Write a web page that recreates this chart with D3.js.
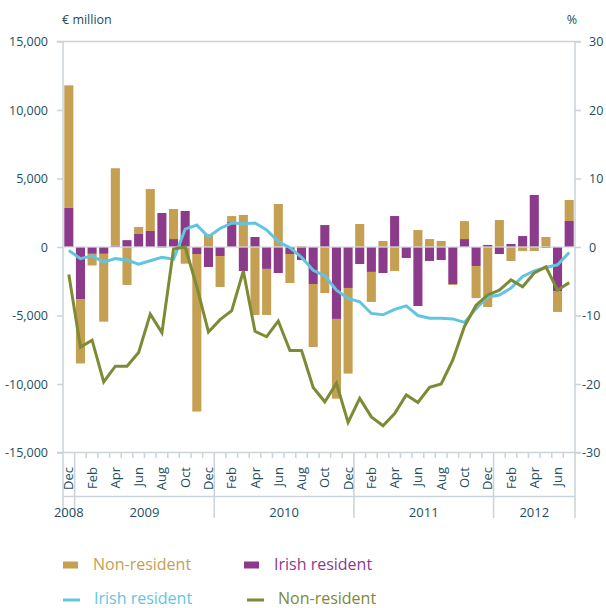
<!DOCTYPE html>
<html>
<head>
<meta charset="utf-8">
<script src="https://d3js.org/d3.v7.min.js"></script>
<style>
    body { margin: 0; background: #fff; }
    svg text { font-family: "Open Sans", sans-serif; }
</style>
</head>
<body>
<div id="chart"></div>
<script>
// Monthly flows (€ million, bars) and annual growth rates (%, lines)

const months = [
    'Dec', 'Jan', 'Feb', 'Mar', 'Apr', 'May', 'Jun', 'Jul', 'Aug', 'Sep', 'Oct', 'Nov',
    'Dec', 'Jan', 'Feb', 'Mar', 'Apr', 'May', 'Jun', 'Jul', 'Aug', 'Sep', 'Oct', 'Nov',
    'Dec', 'Jan', 'Feb', 'Mar', 'Apr', 'May', 'Jun', 'Jul', 'Aug', 'Sep', 'Oct', 'Nov',
    'Dec', 'Jan', 'Feb', 'Mar', 'Apr', 'May', 'Jun', 'Jul'
];
const years = ['2008', '2009', '2010', '2011', '2012'];
const monthsInYear = [1, 12, 12, 12, 7];

// bars: € million
const irishFlows = [
    2850, -3800, -500, -500, 100, 500, 950, 1170, 2480, 580, 2630, -510,
    -1460, -660, 1820, -1750, 730, -1600, -1900, -510, -950, -2700, 1600, -5250,
    -2990, -1240, -1820, -1900, 2260, -800, -4310, -1020, -950, -2700, 580, -1390,
    150, -510, 220, 800, 3800, -70, -3210, 1900
];
const nonResFlows = [
    8950, -4700, -850, -4950, 5650, -2770, 510, 3060, -70, 2190, -1220, -11500,
    950, -2260, 440, 2340, -4960, -3360, 3140, -2120, 70, -4600, -3360, -5820,
    -6250, 1680, -2190, 440, -1750, 0, 1240, 580, 440, -70, 1310, -2340,
    -4380, 1970, -1020, -290, -290, 730, -1530, 1530
];

// lines: %
const irishPct = [
    -0.5, -1.7, -1.3, -2.2, -1.7, -1.9, -2.5, -2.0, -1.5, -1.8, 2.6, 3.2,
    1.5, 2.7, 3.5, 3.4, 3.5, 2.5, 0.8, -0.1, -1.5, -3.4, -4.2, -6.3,
    -7.5, -8.0, -9.7, -9.9, -9.1, -8.6, -10.0, -10.4, -10.4, -10.5, -11.0, -9.0,
    -7.3, -7.0, -6.0, -4.3, -3.5, -3.0, -2.6, -0.8
];
const nonResPct = [
    -4.0, -14.6, -13.6, -19.7, -17.4, -17.4, -15.4, -9.8, -12.5, -0.3, 0.0, -5.8,
    -12.4, -10.6, -9.3, -3.5, -12.3, -13.1, -10.8, -15.1, -15.1, -20.5, -22.6, -19.9,
    -25.6, -22.1, -24.8, -26.1, -24.3, -21.6, -22.7, -20.5, -20.0, -16.5, -11.6, -8.5,
    -7.0, -6.3, -4.8, -5.8, -3.8, -2.9, -6.3, -5.2
];

const leftTicks = [-15000, -10000, -5000, 0, 5000, 10000, 15000];
const rightTicks = [-30, -20, -10, 0, 10, 20, 30];

(function () {
    'use strict';

    const width = 606, height = 608;
    const plot = { left: 63, right: 575, top: 41.5, bottom: 452.5 };

    const colors = {
        nonres: '#c6a052',
        irish: '#8c3a8a',
        irishLine: '#62c5df',
        nonresLine: '#7e8a35',
        text: '#234e5c',
        axis: '#c9d3d9'
    };

    const svg = d3.select('#chart').append('svg')
        .attr('width', width).attr('height', height);

    // one row per month, index used as the band key
    const data = months.map(function (m, i) {
        return { i: i, month: m, irish: irishFlows[i], nonres: nonResFlows[i],
            irishPct: irishPct[i], nonresPct: nonResPct[i] };
    });

    const x = d3.scaleBand().domain(data.map(d => d.i))
        .range([plot.left, plot.right]).paddingInner(0.22).paddingOuter(0.11);
    const step = x.step();
    // band edge (not the bar edge) for the tick marks
    const edge = i => plot.left + i * step;

    const yL = d3.scaleLinear().domain([-15000, 15000]).range([plot.bottom, plot.top]);
    const yR = d3.scaleLinear().domain([-30, 30]).range([plot.bottom, plot.top]);

    // 左轴
    const leftAxis = svg.append('g').attr('transform', `translate(${plot.left},0)`)
        .call(d3.axisLeft(yL).tickValues(leftTicks).tickSize(6).tickPadding(9)
            .tickFormat(d => d3.format(',')(d).replace('−', '-')));
    // 右轴
    const rightAxis = svg.append('g').attr('transform', `translate(${plot.right},0)`)
        .call(d3.axisRight(yR).tickValues(rightTicks).tickSize(6).tickPadding(8)
            .tickFormat(d => String(d)));
    rightAxis.selectAll('.tick text').attr('dx', d => d < 0 ? -7 : 0);

    [leftAxis, rightAxis].forEach(function (g) {
        g.select('.domain').remove();
        g.selectAll('.tick line').attr('stroke', colors.axis).attr('stroke-width', 1.5);
        g.selectAll('.tick text').attr('fill', colors.text).style('font-size', '12.5px');
    });

    // frame: top / bottom lines run over the tick marks, side lines run down past the labels
    const frame = svg.append('g').attr('stroke', colors.axis).attr('stroke-width', 1.5);
    [yL(15000), yL(-15000)].forEach(function (yy) {
        frame.append('line').attr('x1', plot.left - 6).attr('x2', plot.right + 6)
            .attr('y1', yy).attr('y2', yy);
    });
    [plot.left, plot.right].forEach(function (xx) {
        frame.append('line').attr('x1', xx).attr('x2', xx)
            .attr('y1', plot.top).attr('y2', 518);
    });
    frame.append('line').attr('x1', plot.left).attr('x2', plot.right)
        .attr('y1', 496.5).attr('y2', 496.5);

    // month ticks between bands, long ones at year boundaries
    let yearStarts = [0];
    monthsInYear.forEach(function (n, k) { yearStarts.push(yearStarts[k] + n); });
    d3.range(1, months.length).forEach(function (i) {
        const isYear = yearStarts.indexOf(i) >= 0;
        frame.append('line').attr('x1', edge(i)).attr('x2', edge(i))
            .attr('y1', plot.bottom).attr('y2', isYear ? 518 : 458);
    });

    // stacked bars, positive and negative stacked apart
    const series = d3.stack().keys(['irish', 'nonres'])
        .offset(d3.stackOffsetDiverging)(data);

    svg.append('g').selectAll('g').data(series).join('g')
        .attr('fill', s => colors[s.key])
        .selectAll('rect').data(s => s).join('rect')
        .attr('x', d => x(d.data.i))
        .attr('width', x.bandwidth())
        .attr('y', d => yL(Math.max(d[0], d[1])))
        .attr('height', d => Math.abs(yL(d[0]) - yL(d[1])));

    // zero line
    svg.append('line').attr('x1', plot.left).attr('x2', plot.right)
        .attr('y1', yL(0)).attr('y2', yL(0))
        .attr('stroke', '#d3dbe0').attr('stroke-width', 1.5).attr('opacity', 0.85);

    // growth rate lines
    const cx = d => x(d.i) + x.bandwidth() / 2;
    const lines = [
        { key: 'irishPct', color: colors.irishLine },
        { key: 'nonresPct', color: colors.nonresLine }
    ];
    lines.forEach(function (l) {
        svg.append('path').datum(data)
            .attr('fill', 'none').attr('stroke', l.color).attr('stroke-width', 3)
            .attr('stroke-linejoin', 'miter')
            .attr('d', d3.line().x(cx).y(d => yR(d[l.key])));
    });

    // month labels, every other month starting from Dec
    svg.append('g').selectAll('text')
        .data(data.filter(d => d.i % 2 === 0)).join('text')
        .attr('transform', d => `translate(${cx(d)},467) rotate(-90)`)
        .attr('dy', '0.35em')
        .attr('text-anchor', 'end')
        .attr('fill', colors.text)
        .style('font-size', '13px')
        .text(d => d.month);

    // year labels centred under their months
    svg.append('g').selectAll('text')
        .data(years).join('text')
        .attr('x', (d, k) => (edge(yearStarts[k]) + edge(yearStarts[k + 1])) / 2)
        .attr('y', 517)
        .attr('text-anchor', 'middle')
        .attr('fill', colors.text)
        .style('font-size', '13px')
        .text(d => d);

    // axis titles
    svg.append('text').attr('x', 62).attr('y', 24).attr('fill', colors.text)
        .style('font-size', '12.5px').text('€ million');
    svg.append('text').attr('x', 577).attr('y', 24).attr('text-anchor', 'end')
        .attr('fill', colors.text).style('font-size', '12.5px').text('%');

    // legend
    const legend = svg.append('g').style('font-size', '16px');
    const barKeys = [
        { label: 'Non-resident', color: colors.nonres, x: 63 },
        { label: 'Irish resident', color: colors.irish, x: 244 }
    ];
    barKeys.forEach(function (k) {
        legend.append('rect').attr('x', k.x).attr('y', 561.5).attr('width', 15).attr('height', 7)
            .attr('fill', k.color);
        legend.append('text').attr('x', k.x + 30).attr('y', 569.5).attr('fill', k.color).text(k.label);
    });
    const lineKeys = [
        { label: 'Irish resident', color: colors.irishLine, x: 63 },
        { label: 'Non-resident', color: colors.nonresLine, x: 247 }
    ];
    lineKeys.forEach(function (k) {
        legend.append('line').attr('x1', k.x).attr('x2', k.x + 17).attr('y1', 600).attr('y2', 600)
            .attr('stroke', k.color).attr('stroke-width', 3);
        legend.append('text').attr('x', k.x + 31).attr('y', 603.5).attr('fill', k.color).text(k.label);
    });
}());
</script>
</body>
</html>
